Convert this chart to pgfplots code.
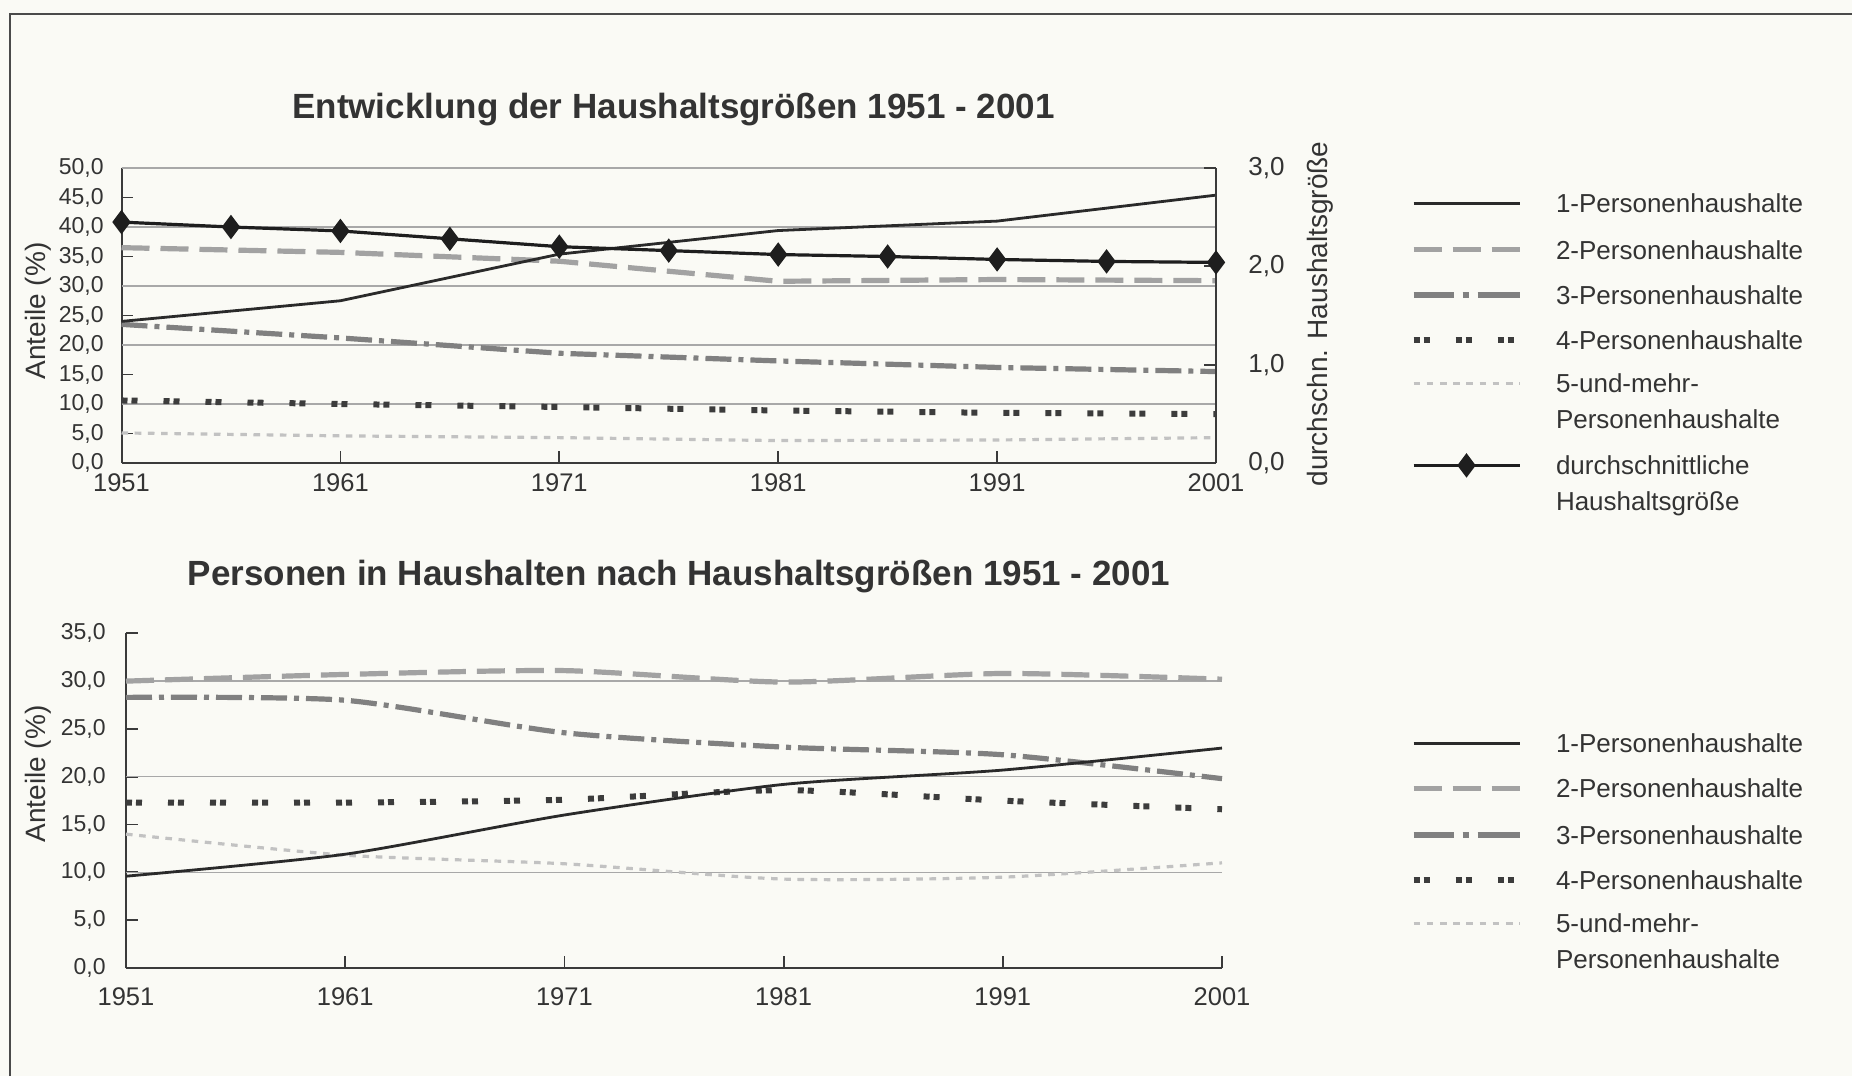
\documentclass[border=0pt]{standalone}
\usepackage{fontspec}
\setmainfont{Liberation Sans}
\usepackage{pgfplots}
\pgfplotsset{compat=1.18}

\definecolor{bgc}{RGB}{250,250,245}
\definecolor{ctext}{HTML}{333333}
\definecolor{caxis}{HTML}{3A3A3A}
\definecolor{cgrid}{HTML}{A8A8A8}
\definecolor{cframe}{HTML}{4A4A4A}
\definecolor{c1}{HTML}{2A2A2A}
\definecolor{c2}{HTML}{A2A2A2}
\definecolor{c3}{HTML}{808080}
\definecolor{c4}{HTML}{3C3C3C}
\definecolor{c5}{HTML}{C2C2C2}
\definecolor{c6}{HTML}{1E1E1E}

\newcommand\R[1]{\rule[-4pt]{0pt}{#1}}

\pgfplotsset{
  s1/.style={draw=c1, line width=1.4pt, mark=none, solid},
  s2/.style={draw=c2, line width=2.6pt, mark=none, dash pattern=on 14pt off 5.5pt},
  s3/.style={draw=c3, line width=2.6pt, mark=none, dash pattern=on 13pt off 3.5pt on 2.5pt off 3.5pt},
  s3leg/.style={draw=c3, line width=2.6pt, mark=none, dash pattern=on 20pt off 4.5pt on 3pt off 4.5pt on 21pt off 2pt},
  s4/.style={draw=c4, line width=3pt, mark=none, dash pattern=on 3pt off 2pt on 3pt off 13pt},
  s5/.style={draw=c5, line width=1.6pt, mark=none, dash pattern=on 3.3pt off 3.3pt},
  s6/.style={draw=c6, line width=1.6pt, mark=diamond*, mark size=4.8pt, mark options={solid, fill=c6, draw=c6}},
  base/.style={
    scale only axis, anchor=south west, clip=false, enlargelimits=false,
    axis line style={draw=caxis, line width=1pt},
    tick align=inside, major tick length=6pt,
    tick style={draw=caxis, line width=0.9pt},
    xmin=1951, xmax=2001,
    xtick={1951,1961,1971,1981,1991,2001},
    xticklabels={1951,1961,1971,1981,1991,2001},
    xticklabel style={anchor=base, inner sep=0pt, font=\fontsize{12.75}{15}\selectfont, text=ctext},
    yticklabel style={anchor=east, inner sep=0pt, font=\fontsize{11.5}{13}\selectfont, text=ctext},
    grid style={draw=cgrid, line width=0.7pt},
    extra y tick style={grid=major, major tick length=0pt},
    extra y tick labels={},
    legend image code/.code={\draw[mark repeat=2,mark phase=2,##1] plot coordinates {(0pt,4.6pt) (26.5pt,4.6pt) (53pt,4.6pt)};},
    legend style={draw=none, fill=none, inner sep=0pt, outer sep=0pt, anchor=north west,
      row sep=0pt, column sep=0pt, font=\fontsize{13}{18}\selectfont, text=ctext,
      cells={anchor=base west, inner sep=0pt},
      /tikz/every odd column/.append style={column sep=14.75pt}},
  },
}

\begin{document}
\begin{tikzpicture}
\useasboundingbox (0,0) rectangle (926pt,-538pt);
\fill[bgc] (0,0) rectangle (926pt,-538pt);
\draw[cframe, line width=1pt] (4.75pt,-538pt) -- (4.75pt,-7pt) -- (926pt,-7pt);

\node[anchor=base, font=\bfseries\fontsize{17.5}{20}\selectfont, text=ctext] at (336.75pt,-59pt) {Entwicklung der Haushaltsgrößen 1951 - 2001};
\node[anchor=base, font=\bfseries\fontsize{17.5}{20}\selectfont, text=ctext] at (339.5pt,-292.5pt) {Personen in Haushalten nach Haushaltsgrößen 1951 - 2001};

% ---------- top chart, left axis ----------
\begin{axis}[base,
  at={(60.75pt,-231.5pt)}, width=547.25pt, height=147.5pt,
  ymin=0, ymax=50, ytick={0,5,...,50},
  yticklabels={{0,0},{5,0},{10,0},{15,0},{20,0},{25,0},{30,0},{35,0},{40,0},{45,0},{50,0}},
  extra y ticks={10,20,30,40,50},
  axis x line*=bottom, axis y line*=left,
  xticklabel style={yshift=-14pt},
  yticklabel style={xshift=-8.75pt},
  every axis y label/.style={at={(axis description cs:-0.0763,0.515)}, anchor=center, rotate=90, font=\fontsize{14}{16}\selectfont, text=ctext},
  ylabel={Anteile (\%)},
  legend style={at={(axis description cs:1.1777,0.9573)}},
]
\addplot[s5, forget plot] coordinates {(1951,5.1) (1961,4.6) (1971,4.3) (1981,3.8) (1991,3.9) (2001,4.3)};
\addplot[s4, forget plot] coordinates {(1951,10.6) (1961,10.0) (1971,9.5) (1981,8.9) (1991,8.5) (2001,8.3)};
\addplot[s3, forget plot] coordinates {(1951,23.5) (1961,21.2) (1971,18.6) (1981,17.3) (1991,16.2) (2001,15.5)};
\addplot[s2, forget plot] coordinates {(1951,36.5) (1961,35.7) (1971,34.2) (1981,30.8) (1991,31.1) (2001,30.9)};
\addplot[s1, forget plot] coordinates {(1951,24.0) (1961,27.5) (1971,35.4) (1981,39.4) (1991,41.0) (2001,45.4)};

\addlegendimage{s1}\addlegendentry{\R{18pt}1-Personenhaushalte}
\addlegendimage{s2}\addlegendentry{\R{21.7pt}2-Personenhaushalte}
\addlegendimage{s3leg}\addlegendentry{\R{21.1pt}3-Personenhaushalte}
\addlegendimage{s4}\addlegendentry{\R{21.1pt}4-Personenhaushalte}
\addlegendimage{s5}\addlegendentry{\R{20pt}5-und-mehr-}
\addlegendimage{empty legend}\addlegendentry{\R{16.4pt}Personenhaushalte}
\addlegendimage{s6}\addlegendentry{\R{21.7pt}durchschnittliche}
\addlegendimage{empty legend}\addlegendentry{\R{16.4pt}Haushaltsgröße}
\end{axis}

% ---------- top chart, right axis ----------
\begin{axis}[base,
  at={(60.75pt,-231.5pt)}, width=547.25pt, height=147.5pt,
  ymin=0, ymax=3, ytick={0,1,2,3},
  yticklabels={{0,0},{1,0},{2,0},{3,0}},
  hide x axis, axis y line*=right,
  yticklabel style={anchor=west, xshift=16pt, font=\fontsize{13}{15}\selectfont},
  every axis y label/.style={at={(axis description cs:1.095,0.505)}, anchor=center, rotate=90, font=\fontsize{14}{16}\selectfont, text=ctext},
  ylabel={durchschn. Haushaltsgröße},
]
\addplot[s6] coordinates {(1951,2.45) (1956,2.40) (1961,2.36) (1966,2.28) (1971,2.20) (1976,2.16) (1981,2.12) (1986,2.10) (1991,2.07) (1996,2.05) (2001,2.04)};
\end{axis}

% ---------- bottom chart ----------
\begin{axis}[base,
  at={(63pt,-484pt)}, width=548pt, height=167.35pt,
  ymin=0, ymax=35, ytick={0,5,...,35},
  yticklabels={{0,0},{5,0},{10,0},{15,0},{20,0},{25,0},{30,0},{35,0}},
  extra y ticks={10,20,30},
  axis x line*=bottom, axis y line*=left,
  xticklabel style={yshift=-18.5pt},
  yticklabel style={xshift=-10pt},
  every axis y label/.style={at={(axis description cs:-0.0803,0.58)}, anchor=center, rotate=90, font=\fontsize{14}{16}\selectfont, text=ctext},
  ylabel={Anteile (\%)},
  legend style={at={(axis description cs:1.1720,0.7395)}},
]
\addplot[s5, smooth, tension=0.4, forget plot] coordinates {(1951,14.0) (1961,11.8) (1971,10.9) (1981,9.3) (1991,9.5) (2001,11.0)};
\addplot[s4, smooth, tension=0.4, forget plot] coordinates {(1951,17.3) (1961,17.3) (1971,17.6) (1981,18.6) (1991,17.5) (2001,16.6)};
\addplot[s3, smooth, tension=0.4, forget plot] coordinates {(1951,28.3) (1961,28.0) (1971,24.6) (1981,23.1) (1991,22.3) (2001,19.8)};
\addplot[s2, smooth, tension=0.4, forget plot] coordinates {(1951,30.0) (1961,30.7) (1971,31.1) (1981,29.9) (1991,30.8) (2001,30.2)};
\addplot[s1, smooth, tension=0.4, forget plot] coordinates {(1951,9.6) (1961,11.9) (1971,16.0) (1981,19.2) (1991,20.7) (2001,23.0)};

\addlegendimage{s1}\addlegendentry{\R{18pt}1-Personenhaushalte}
\addlegendimage{s2}\addlegendentry{\R{21.1pt}2-Personenhaushalte}
\addlegendimage{s3leg}\addlegendentry{\R{21.7pt}3-Personenhaushalte}
\addlegendimage{s4}\addlegendentry{\R{21.1pt}4-Personenhaushalte}
\addlegendimage{s5}\addlegendentry{\R{20pt}5-und-mehr-}
\addlegendimage{empty legend}\addlegendentry{\R{16.4pt}Personenhaushalte}
\end{axis}
\end{tikzpicture}
\end{document}
